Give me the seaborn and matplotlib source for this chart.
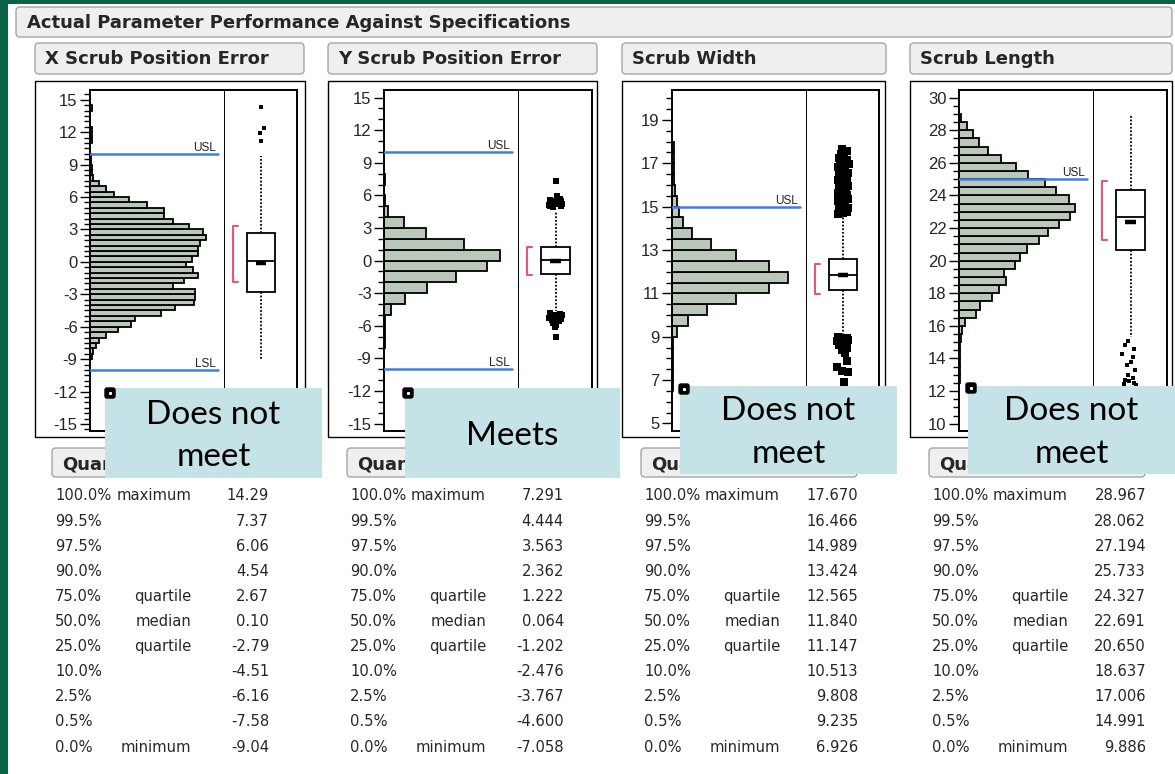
import numpy as np
import pandas as pd
import seaborn as sns
import matplotlib.pyplot as plt
from matplotlib.patches import FancyBboxPatch, Rectangle
from matplotlib.ticker import MultipleLocator, FixedLocator

W, H = 1175, 774

main_title = "Actual Parameter Performance Against Specifications"
titles = ["X Scrub Position Error", "Y Scrub Position Error", "Scrub Width", "Scrub Length"]
callouts = [["Does not", "meet"], ["Meets"], ["Does not", "meet"], ["Does not", "meet"]]

# ---- histogram data: lower bin edge + bar length (counts) ----
x_bin_w = 0.5
x_bin_lo = [-9.0, -8.5, -8.0, -7.5, -7.0, -6.5, -6.0, -5.5, -5.0, -4.5, -4.0, -3.5, -3.0, -2.5, -2.0,
            -1.5, -1.0, -0.5, 0.0, 0.5, 1.0, 1.5, 2.0, 2.5, 3.0, 3.5, 4.0, 4.5, 5.0, 5.5, 6.0, 6.5,
            7.0, 7.5, 8.0, 8.5, 9.0, 9.5, 10.0, 10.5, 11.0, 11.5, 12.0, 12.5, 13.0, 13.5, 14.0]
x_counts = [2, 3.3, 6.3, 9.3, 16, 28.3, 40.7, 45.3, 71, 85, 103.7, 105.3, 105, 83.3, 93.7,
            108.3, 103.3, 96, 102, 108.3, 108.3, 110, 116, 112.7, 99.3, 83.3, 73.7, 73.7, 56.7, 39.3, 23.7, 15.7,
            9.3, 3.3, 2, 1.5, 1, 1, 0, 0, 1.5, 1.5, 1.5, 0, 0, 0, 1.5]

y_bin_w = 1.0
y_bin_lo = [-8, -7, -6, -5, -4, -3, -2, -1, 0, 1, 2, 3, 4, 5, 6, 7]
y_counts = [1.3, 1.3, 1.3, 7, 21.3, 43.3, 71.7, 103, 115.7, 79.7, 41.7, 19.7, 4, 1.3, 0, 1.3]

w_bin_w = 0.5
w_bin_lo = [6.5, 7.0, 7.5, 8.0, 8.5, 9.0, 9.5, 10.0, 10.5, 11.0, 11.5, 12.0, 12.5, 13.0, 13.5,
            14.0, 14.5, 15.0, 15.5, 16.0, 16.5, 17.0, 17.5]
w_counts = [1.3, 1.3, 1.3, 1.3, 1.3, 4.7, 15.7, 34.7, 64.3, 97.3, 116, 97.3, 64.3, 39, 20.3,
            11, 6.7, 5, 3.3, 2, 2, 2, 2]

l_bin_w = 0.5
l_bin_lo = [12.5, 13.0, 13.5, 14.0, 14.5, 15.0, 15.5, 16.0, 16.5, 17.0, 17.5, 18.0, 18.5, 19.0, 19.5,
            20.0, 20.5, 21.0, 21.5, 22.0, 22.5, 23.0, 23.5, 24.0, 24.5, 25.0, 25.5, 26.0, 26.5, 27.0,
            27.5, 28.0, 28.5]
l_counts = [1, 1, 1, 1, 1, 1.5, 2.7, 6, 17, 21.3, 32.7, 40, 47, 45.3, 56.3,
            60.7, 68.3, 79.7, 89.3, 100, 111.3, 116, 110, 96.7, 86, 68.7, 57.3, 41.7, 29.3, 20,
            14, 8, 1.7]

# ---- box plot data ----
whisk_hi = [9.8, 4.6, 14.62, 28.967]
whisk_lo = [-9.04, -4.6, 9.0, 15.3]
means = [-0.12, -0.05, 11.83, 22.4]
short_half = [(-1.85, 3.33), (-1.29, 1.23), (10.97, 12.36), (21.24, 24.87)]

x_out = [14.29, 12.34, 11.9, 11.2]
x_out_off = [0.0, 0.04, -0.01, 0.0]
y_out = [7.29, 5.9, 5.7, 5.55, 5.45, 5.35, 5.25, 5.15, 5.05, 4.95, 5.5, 5.2, 5.0, 5.4, 5.3, 5.1,
         -4.85, -4.95, -5.05, -5.15, -5.25, -5.35, -5.45, -5.6, -5.75, -5.9, -6.1, -5.0, -5.2, -5.4,
         -5.1, -5.3, -7.06]
y_out_off = [0.0, 0.02, 0.06, -0.08, 0.08, -0.05, 0.04, -0.09, 0.07, -0.03, 0.01, 0.09, -0.07, -0.02,
             0.05, -0.06, -0.07, 0.06, -0.02, 0.08, -0.09, 0.03, -0.05, 0.05, -0.03, 0.0, -0.01, 0.09,
             -0.08, 0.07, 0.02, -0.04, 0.0]
w_out = [14.65, 14.75, 14.85, 14.95, 15.05, 15.15, 15.25, 15.35, 15.45, 15.55, 15.65, 15.75, 15.85,
         15.95, 16.05, 16.15, 16.25, 16.35, 16.45, 16.55, 16.65, 16.75, 16.85, 16.95, 17.05, 17.15,
         17.25, 17.35, 17.45, 17.55, 17.67,
         14.7, 14.9, 15.1, 15.3, 15.5, 15.7, 15.9, 16.1, 16.3, 16.5, 16.7, 16.9, 17.1, 17.3, 17.5,
         9.0, 8.95, 8.9, 8.85, 8.8, 8.7, 8.6, 8.5, 8.4, 8.25, 7.9, 7.6, 7.4, 7.35, 6.93]
w_out_off = [-0.07, 0.06, -0.02, 0.07, -0.06, 0.03, -0.07, 0.07, -0.04, 0.06, -0.07, 0.04, -0.06,
             0.07, -0.03, 0.06, -0.07, 0.05, -0.06, 0.07, -0.05, 0.03, -0.07, 0.08, -0.04, 0.05,
             -0.06, 0.02, -0.03, 0.06, -0.01,
             0.0, 0.01, -0.01, 0.0, 0.02, -0.02, 0.0, 0.01, -0.01, 0.0, 0.02, 0.0, -0.02, 0.01, 0.0,
             -0.07, 0.05, -0.03, 0.07, -0.08, 0.02, -0.05, 0.06, -0.02, 0.03, 0.06, -0.08, -0.01, 0.07, 0.02]
l_out = [15.08, 14.8, 14.6, 14.3, 14.1, 13.8, 13.6, 13.3, 13.0, 12.7, 12.5, 12.6, 12.8, 12.45, 12.4]
l_out_off = [-0.04, -0.08, 0.05, -0.11, 0.03, 0.0, -0.05, 0.06, -0.03, -0.07, 0.05, -0.02, 0.03, -0.09, 0.07]

usl = [10, 10, 15, 25]
lsl = [-10, -10, None, None]

# ---- quantile tables ----
q_pct = ["100.0%", "99.5%", "97.5%", "90.0%", "75.0%", "50.0%", "25.0%", "10.0%", "2.5%", "0.5%", "0.0%"]
q_desc = ["maximum", "", "", "", "quartile", "median", "quartile", "", "", "", "minimum"]
q_x = ["14.29", "7.37", "6.06", "4.54", "2.67", "0.10", "-2.79", "-4.51", "-6.16", "-7.58", "-9.04"]
q_y = ["7.291", "4.444", "3.563", "2.362", "1.222", "0.064", "-1.202", "-2.476", "-3.767", "-4.600", "-7.058"]
q_w = ["17.670", "16.466", "14.989", "13.424", "12.565", "11.840", "11.147", "10.513", "9.808", "9.235", "6.926"]
q_l = ["28.967", "28.062", "27.194", "25.733", "24.327", "22.691", "20.650", "18.637", "17.006", "14.991", "9.886"]

hists = [(x_bin_lo, x_counts, x_bin_w), (y_bin_lo, y_counts, y_bin_w),
         (w_bin_lo, w_counts, w_bin_w), (l_bin_lo, l_counts, l_bin_w)]
outs = [(x_out, x_out_off), (y_out, y_out_off), (w_out, w_out_off), (l_out, l_out_off)]
tables = [q_x, q_y, q_w, q_l]

# axis setup per panel: ylim, major ticks, minor step
ylims = [(-15.65, 15.9), (-15.68, 15.7), (4.65, 20.38), (9.55, 30.47)]
majors = [[-15, -12, -9, -6, -3, 0, 3, 6, 9, 12, 15], [-15, -12, -9, -6, -3, 0, 3, 6, 9, 12, 15],
          [5, 7, 9, 11, 13, 15, 17, 19], [10, 12, 14, 16, 18, 20, 22, 24, 26, 28, 30]]
minors = [0.5, 1.0, 0.5, 0.5]
out_size = [10, 18, 32, 12]

# ---- pixel layout ----
frame_x0 = [35, 328, 622, 910]
frame_x1 = [305, 597, 885, 1172]
head_x1 = [304, 597, 886, 1172]
hist_x0 = [90, 384, 672, 959]
div_x = [225, 519, 807, 1094]
box_x1 = [297, 592, 879, 1167]
quant_x0 = [52, 347, 641, 929]
call_box = [(105, 388, 322, 478), (405, 388, 620, 478), (680, 386, 897, 474), (968, 386, 1175, 474)]
call_line_y = [[415, 457], [436], [411, 454], [411, 454]]
sq_pos = [(110, 393), (408, 393), (684, 389), (971, 388)]
ax_top, ax_bot = 90, 431

sns.set_style("ticks")
plt.rcParams['font.family'] = ['Liberation Sans', 'DejaVu Sans']
plt.rcParams['axes.unicode_minus'] = False
wide = ['DejaVu Sans']

fig = plt.figure(figsize=(W / 100, H / 100), dpi=100, facecolor='#0b6245')

bg = fig.add_axes([0, 0, 1, 1], zorder=-5)
bg.set_xlim(0, W)
bg.set_ylim(H, 0)
bg.axis('off')
bg.add_patch(Rectangle((8, 4), W - 8, H - 4, fc='white', ec='none'))
bg.add_patch(FancyBboxPatch((16, 7), 1156, 30, boxstyle='round,pad=0,rounding_size=4',
                            fc='#efefef', ec='#a5a5a5', lw=1))
bg.text(27, 23, main_title, fontsize=13, fontweight='bold', family=wide, va='center', ha='left')

fill = '#b9c8b8'

for i in range(4):
    x0 = frame_x0[i]
    # column header
    bg.add_patch(FancyBboxPatch((x0, 43), head_x1[i] - x0, 31, boxstyle='round,pad=0,rounding_size=4',
                                fc='#efefef', ec='#a5a5a5', lw=1))
    bg.text(x0 + 10, 59, titles[i], fontsize=13, fontweight='bold', family=wide, va='center', ha='left')
    # outer frame
    bg.add_patch(Rectangle((x0, 81), frame_x1[i] - x0, 356, fc='white', ec='black', lw=1))
    # quantiles header (partly hidden behind the callout, so clip it there)
    bg.add_patch(FancyBboxPatch((quant_x0[i], 448), 216, 29, boxstyle='round,pad=0,rounding_size=4',
                                fc='#efefef', ec='#a5a5a5', lw=1))
    qt = bg.text(quant_x0[i] + 10, 464, "Quantiles", fontsize=13, fontweight='bold', family=wide,
                 va='center', ha='left')
    clip = Rectangle((quant_x0[i], 448), call_box[i][0] - quant_x0[i], 30, transform=bg.transData)
    qt.set_clip_path(clip)
    qt.set_clip_on(True)
    # quantile table
    tab = tables[i]
    px = quant_x0[i] + 3
    for r in range(len(q_pct)):
        yy = 496 + 25.1 * r
        bg.text(px, yy, q_pct[r], fontsize=10.6, family=wide, va='center', ha='left')
        bg.text(px + 136, yy, q_desc[r], fontsize=10.6, family=wide, va='center', ha='right')
        bg.text(px + 214, yy, tab[r], fontsize=10.6, family=wide, va='center', ha='right')

    # histogram axes
    hx = fig.add_axes([hist_x0[i] / W, 1 - ax_bot / H, (div_x[i] - hist_x0[i]) / W, (ax_bot - ax_top) / H])
    lo, cnt, bw = hists[i]
    df = pd.DataFrame({'val': np.array(lo) + bw / 2, 'count': cnt})
    sns.histplot(data=df, y='val', weights='count', binwidth=bw, binrange=(lo[0], lo[-1] + bw),
                 ax=hx, color=fill, edgecolor='black', linewidth=1.3, alpha=1)
    hx.set_xlim(0, div_x[i] - hist_x0[i])
    hx.set_ylim(*ylims[i])
    hx.set_xlabel('')
    hx.set_ylabel('')
    hx.set_xticks([])
    hx.yaxis.set_major_locator(FixedLocator(majors[i]))
    hx.yaxis.set_minor_locator(MultipleLocator(minors[i]))
    hx.tick_params(axis='y', which='major', length=7, width=1, labelsize=12, pad=2, color='black')
    hx.tick_params(axis='y', which='minor', length=4, width=1, color='black')
    for s in hx.spines.values():
        s.set_color('black')
        s.set_linewidth(1.4)
    end = div_x[i] - hist_x0[i] - 7
    for lim, name in [(usl[i], "USL"), (lsl[i], "LSL")]:
        if lim is None:
            continue
        hx.plot([0, end], [lim, lim], color='#3d7ee6', lw=1.8, zorder=3)
        hx.text(end - 2, lim, name, fontsize=8.5, ha='right', va='bottom', color='#222222')

    # box plot axes
    bx = fig.add_axes([div_x[i] / W, 1 - ax_bot / H, (box_x1[i] - div_x[i]) / W, (ax_bot - ax_top) / H])
    vals = [float(v) for v in tab]
    stats = [{'med': vals[5], 'q1': vals[6], 'q3': vals[4],
              'whislo': whisk_lo[i], 'whishi': whisk_hi[i], 'fliers': []}]
    bx.bxp(stats, positions=[0], widths=[0.4], showfliers=False, showcaps=False, patch_artist=True,
           boxprops=dict(facecolor='white', edgecolor='black', linewidth=1.3),
           whiskerprops=dict(color='black', linewidth=1.3, linestyle=(0, (1, 1))),
           medianprops=dict(color='black', linewidth=1.3))
    bx.plot([-0.075, 0.075], [means[i], means[i]], color='black', lw=3.2, solid_capstyle='butt')
    slo, shi = short_half[i]
    bx.plot([-0.32, -0.39, -0.39, -0.32], [shi, shi, slo, slo], color='#e8557a', lw=1.5)
    ov_vals, ov_off = outs[i]
    bx.scatter(ov_off, ov_vals, marker='s', s=out_size[i], color='black', linewidths=0, zorder=4)
    bx.set_xlim(-0.5, 0.5)
    bx.set_ylim(*ylims[i])
    bx.set_xticks([])
    bx.set_yticks([])
    bx.spines['left'].set_visible(False)
    for s in ['top', 'right', 'bottom']:
        bx.spines[s].set_color('black')
        bx.spines[s].set_linewidth(1.4)

# overlay: callouts
ov = fig.add_axes([0, 0, 1, 1], zorder=10)
ov.set_xlim(0, W)
ov.set_ylim(H, 0)
ov.axis('off')
ov.patch.set_alpha(0)
for i in range(4):
    cx0, cy0, cx1, cy1 = call_box[i]
    ov.add_patch(Rectangle((cx0, cy0), cx1 - cx0, cy1 - cy0, fc='#c5e3e6', ec='none'))
    for line, ly in zip(callouts[i], call_line_y[i]):
        ov.text((cx0 + cx1) / 2, ly, line, fontsize=24, family=['Lato', 'DejaVu Sans'],
                ha='center', va='center', color='black')
    sx, sy = sq_pos[i]
    ov.add_patch(FancyBboxPatch((sx - 5, sy - 5), 10, 10, boxstyle='round,pad=0,rounding_size=2',
                                fc='black', ec='black', lw=1))
    ov.plot([sx], [sy], marker='s', ms=1.2, color='white')

fig.savefig('out.png', dpi=100, facecolor=fig.get_facecolor())
